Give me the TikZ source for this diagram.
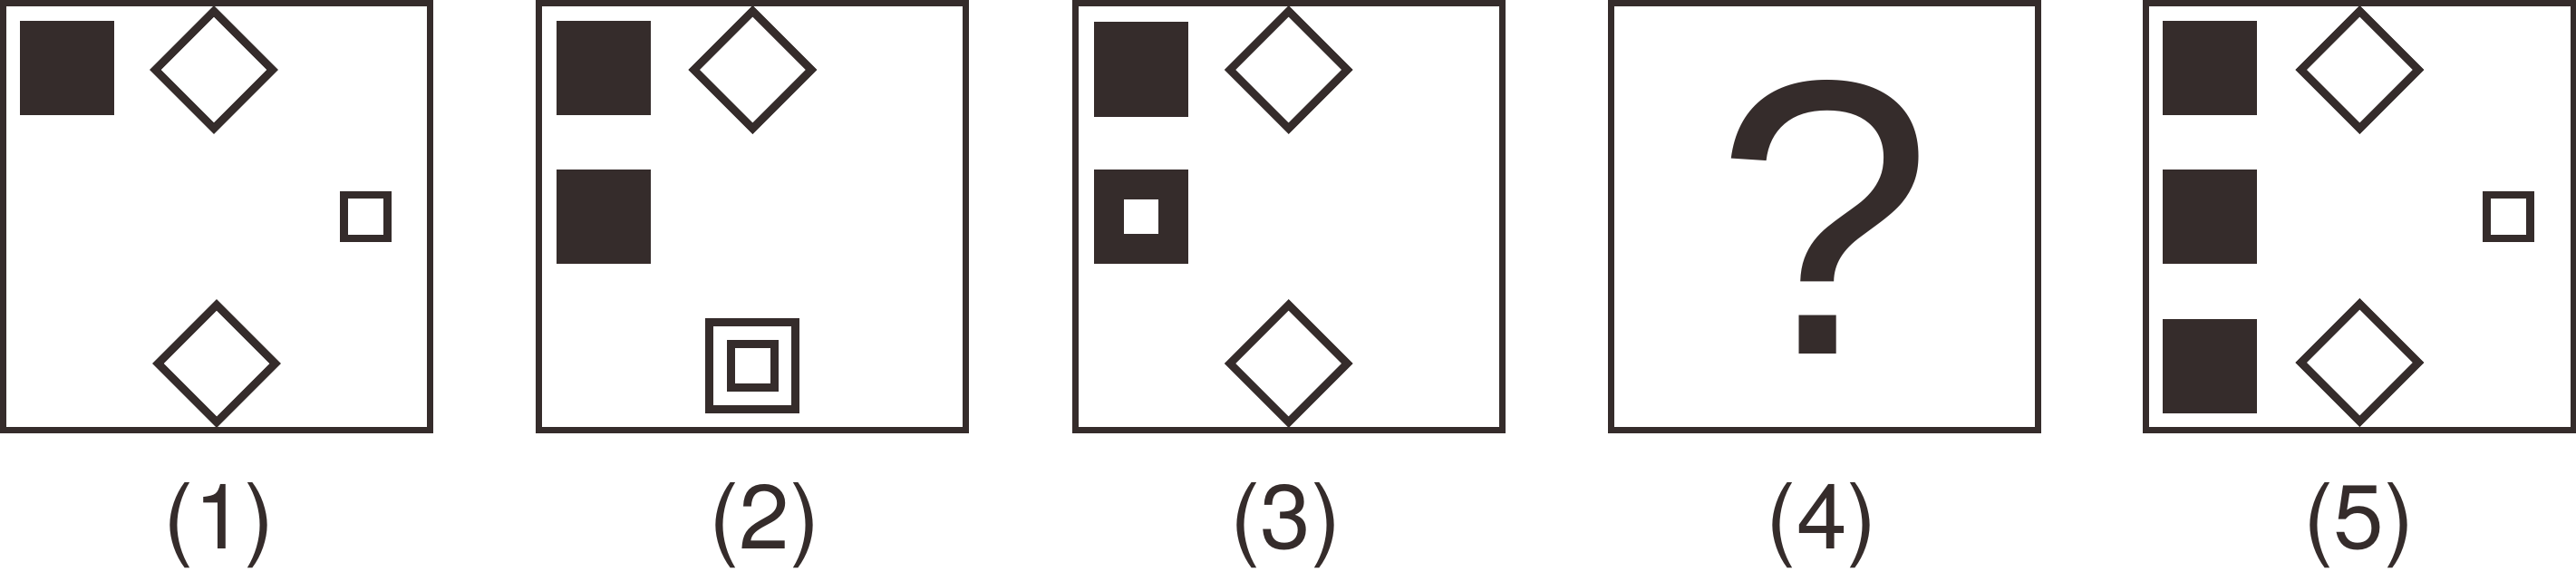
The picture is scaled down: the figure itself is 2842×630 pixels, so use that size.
\documentclass[tikz,border=0pt]{standalone}
\usepackage{fontspec}
\setmainfont{TeX Gyre Heros}
\newfontfamily\qfont{Liberation Sans}
\usetikzlibrary{shapes.geometric}
\definecolor{ink}{HTML}{352C2B}
\tikzset{
  frame/.style={draw=ink,line width=0.7mm,minimum size=47.1mm,inner sep=0pt},
  blk/.style  ={fill=ink,minimum size=10.4mm,inner sep=0pt},
  hole/.style ={fill=white,minimum size=3.8mm,inner sep=0pt},
  dia/.style  ={diamond,draw=ink,line width=0.88mm,minimum size=13.3mm,inner sep=0pt},
  sq/.style   ={draw=ink,line width=0.88mm,minimum size=4.8mm,inner sep=0pt},
  bigsq/.style={draw=ink,line width=0.9mm,minimum size=9.5mm,inner sep=0pt},
  lbl/.style  ={text=ink,font=\fontsize{28.5}{34}\selectfont,anchor=base,inner sep=0pt},
}

\begin{document}
\begin{tikzpicture}[x=0.01cm,y=-0.01cm]
  \useasboundingbox (0,0) rectangle (2842,630);

  % ---- panel 1 ----
  \node[frame] (f1) at (239,239) {};
  \node[blk] (b1) at (74,75) {};
  \node[dia] (d1a) at (236,77) {};
  \node[sq] (s1) at (403.5,239) {};
  \node[dia] (d1b) at (239,401) {};
  \node[lbl] (l1) at (242,605) {(1)};

  % ---- panel 2 ----
  \begin{scope}[xshift=5.91cm]
  \node[frame] (f2) at (239,239) {};
  \node[blk] (b2a) at (74.5,75) {};
  \node[blk] (b2b) at (74.5,239) {};
  \node[dia] (d2) at (239,77) {};
  \node[bigsq] (s2a) at (239,403.5) {};
  \node[sq] (s2b) at (239,403.5) {};
  \node[lbl] (l2) at (252,605) {(2)};
  \end{scope}

  % ---- panel 3 ----
  \begin{scope}[xshift=11.82cm]
  \node[frame] (f3) at (239,239) {};
  \node[blk] (b3a) at (76,76.5) {};
  \node[blk] (b3b) at (76,239) {};
  \node[hole] (h3) at (76,239) {};
  \node[dia] (d3a) at (239,77) {};
  \node[dia] (d3b) at (239,401) {};
  \node[lbl] (l3) at (236,605) {(3)};
  \end{scope}

  % ---- panel 4 ----
  \begin{scope}[xshift=17.73cm]
  \node[frame] (f4) at (239,239) {};
  \node[text=ink,font=\qfont\fontsize{123}{148}\selectfont,anchor=base,inner sep=0pt] (q) at (239,390) {?};
  \node[lbl] (l4) at (236,605) {(4)};
  \end{scope}

  % ---- panel 5 ----
  \begin{scope}[xshift=23.63cm]
  \node[frame] (f5) at (239,239) {};
  \node[blk] (b5a) at (74,75) {};
  \node[blk] (b5b) at (74,239) {};
  \node[blk] (b5c) at (74,404) {};
  \node[dia] (d5a) at (239,77) {};
  \node[dia] (d5b) at (239,400) {};
  \node[sq] (s5) at (403,239) {};
  \node[lbl] (l5) at (238,605) {(5)};
  \end{scope}
\end{tikzpicture}
\end{document}
